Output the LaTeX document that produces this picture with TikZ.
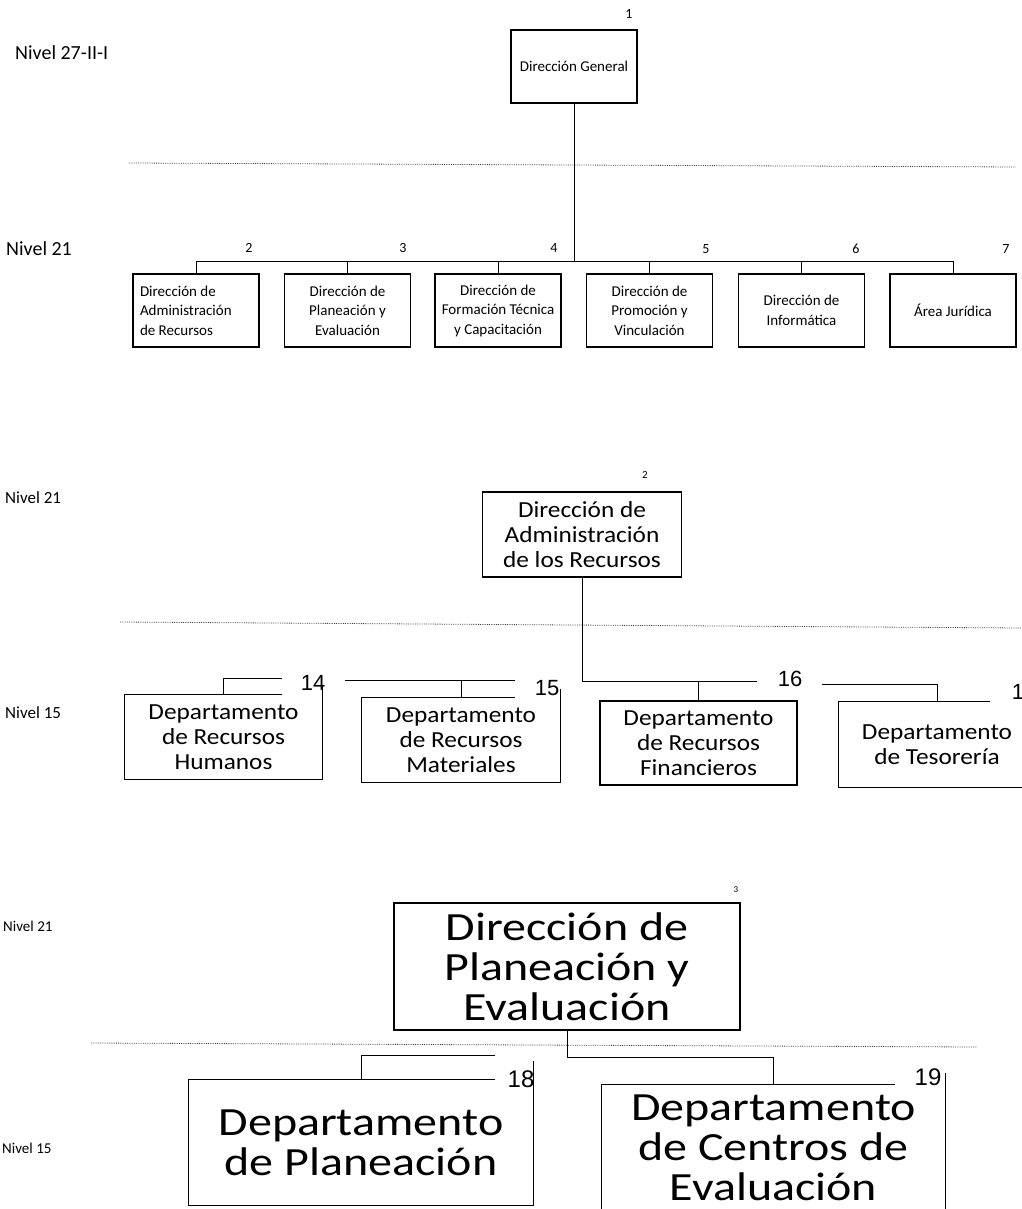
\documentclass[tikz,border=0pt]{standalone}
\usepackage{fontspec}
\setmainfont{Carlito}
\newfontfamily\arialfont{Liberation Sans}
\newfontfamily\midfont[FakeStretch=1.1]{Carlito}
\newfontfamily\widefont[FakeStretch=1.2]{Carlito}
\usetikzlibrary{positioning}

\begin{document}
\begin{tikzpicture}[x=1pt,y=1pt,yscale=-1,xscale=1,
  box/.style={draw,line width=1.2pt,minimum width=126pt,minimum height=73pt,inner sep=1pt,align=center,font=\fontsize{15}{19.5}\selectfont},
  frame/.style={line width=1.1pt},
  link/.style={line width=1pt},
  level/.style={densely dotted,line width=0.8pt,black!75},
  nivel/.style={anchor=west,inner sep=0pt,font=\fontsize{20}{22}\selectfont},
  num/.style={inner sep=0pt,font=\fontsize{14}{16}\selectfont},
  numb/.style={inner sep=0pt,font=\arialfont\fontsize{22}{24}\selectfont},
  mid/.style={align=center,inner sep=0pt,font=\midfont\fontsize{23}{25}\selectfont},
  big/.style={align=center,inner sep=0pt,font=\widefont\fontsize{40}{40}\selectfont}]
\useasboundingbox (0,0) rectangle (1021,1209);

%%%%%%%%%%%%%%%% Dirección General

% Text Node
\node[nivel] (nv27) at (15,53) {Nivel 27-II-I};
\node[nivel] (nv21a) at (6,249) {Nivel 21};

%Shape: Rectangle
\node[box] (dg) at (574,66.5) {Dirección General};
\node[box,text width=112pt,align=flush left] (b2) at (196,310.5) {Dirección de\\Administración\\de Recursos};
\node[box] (b3) at (347.5,310.5) {Dirección de\\Planeación y\\Evaluación};
\node[box] (b4) at (498,310.5) {Dirección de\\Formación Técnica\\y Capacitación};
\node[box] (b5) at (649.5,310.5) {Dirección de\\Promoción y\\Vinculación};
\node[box] (b6) at (801.5,310.5) {Dirección de\\Informática};
\node[box] (b7) at (953,310.5) {Área Jurídica};

% Text Node
\node[num] (n1) at (629,14) {1};
\node[num] (n2) at (249,248) {2};
\node[num] (n3) at (403,248) {3};
\node[num] (n4) at (554,248) {4};
\node[num] (n5) at (706,249) {5};
\node[num] (n6) at (856,249) {6};
\node[num] (n7) at (1006,249) {7};

%Straight Lines
\draw[level] (129,163) -- (1016,167);
\coordinate (bus) at (574,261);
\draw[link] (dg.south) -- (bus);
\draw[link] (b2.north) |- (b7.north |- bus) -- (b7.north);
\foreach \b in {b3,b4,b5,b6}
  \draw[link] (\b.north) -- (\b.north |- bus);

%%%%%%%%%%%%%%%% Dirección de Administración

% Text Node
\node[nivel,font=\fontsize{17}{19}\selectfont] (nv21b) at (5,498) {Nivel 21};
\node[nivel,font=\fontsize{17}{19}\selectfont] (nv15b) at (5,713) {Nivel 15};
\node[num,font=\fontsize{11}{12}\selectfont] (t2) at (645,475) {2};

%Shape: Rectangle
\node[mid,draw,line width=1.2pt,minimum width=199pt,minimum height=85pt] (dar) at (582,534.5) {Dirección de\\Administración\\de los Recursos};

\node[mid,minimum width=197pt,minimum height=84pt] (d14) at (223.5,737) {Departamento\\de Recursos\\Humanos};
\node[mid,minimum width=198pt,minimum height=84pt] (d15) at (461,740) {Departamento\\de Recursos\\Materiales};
\node[mid,draw,line width=1.1pt,minimum width=197pt,minimum height=84pt] (d16) at (698.5,743) {Departamento\\de Recursos\\Financieros};
\node[mid,minimum width=196pt,minimum height=85pt] (d17) at (937,744.5) {Departamento\\de Tesorería};

\draw[frame] ([xshift=157pt]d14.north west) -- (d14.north west) -- (d14.south west) -- (d14.south east) -- ([yshift=-10pt]d14.north east);
\draw[frame] ([xshift=153pt]d15.north west) -- (d15.north west) -- (d15.south west) -- (d15.south east) -- ([yshift=-9pt]d15.north east);
\draw[frame] ([xshift=151pt]d17.north west) -- (d17.north west) -- (d17.south west) -- (d17.south east);

% Text Node
\node[numb] (n14) at (313,683) {14};
\node[numb] (n15) at (547,688) {15};
\node[numb] (n16) at (790,679) {16};
\node[numb] (n17) at (1024,692) {17};

%Straight Lines
\draw[level] (120,622) -- (1021,628);
\coordinate (c14) at (282,678);
\coordinate (c15a) at (345,680);
\coordinate (c15b) at (515,680);
\coordinate (c16) at (757,681);
\coordinate (c17) at (822,684);
\draw[link] (c14) -| (d14.north);
\draw[link] (c15a) -- (c15b);
\draw[link] (d15.north) -- (d15.north |- c15a);
\draw[link] (dar.south) |- (c16);
\draw[link] (d16.north) -- (d16.north |- c16);
\draw[link] (c17) -| (d17.north);

%%%%%%%%%%%%%%%% Dirección de Planeación

% Text Node
\node[nivel,font=\fontsize{15}{17}\selectfont] (nv21c) at (3,926) {Nivel 21};
\node[nivel,font=\fontsize{15}{17}\selectfont] (nv15c) at (2,1148) {Nivel 15};
\node[num,font=\fontsize{9}{10}\selectfont] (t3) at (736,890) {3};

%Shape: Rectangle
\node[big,draw,line width=1.2pt,minimum width=346pt,minimum height=127pt] (dpe) at (567,966.5) {Dirección de\\Planeación y\\Evaluación};

\node[big,minimum width=344pt,minimum height=125pt] (d18) at (361,1142.5) {Departamento\\de Planeación};
\node[big,minimum width=343pt,minimum height=125pt] (d19) at (773.5,1147.5) {Departamento\\de Centros de\\Evaluación};

\draw[frame] ([xshift=306pt]d18.north west) -- (d18.north west) -- (d18.south west) -- (d18.south east) -- ([yshift=-19pt]d18.north east);
\draw[frame] ([xshift=293pt]d19.north west) -- (d19.north west) -- (d19.south west);
\draw[frame] (d19.south east) -- ([yshift=-12pt]d19.north east);

% Text Node
\node[numb,font=\arialfont\fontsize{24}{26}\selectfont] (n18) at (521,1079) {18};
\node[numb,font=\arialfont\fontsize{24}{26}\selectfont] (n19) at (928,1077) {19};

%Straight Lines
\draw[level] (91,1043) -- (977,1047);
\coordinate (c18) at (495,1055);
\coordinate (c19) at (773.5,1057);
\draw[link] (c18) -| (d18.north);
\draw[link] (dpe.south) |- (c19) -- (d19.north);

\end{tikzpicture}
\end{document}
